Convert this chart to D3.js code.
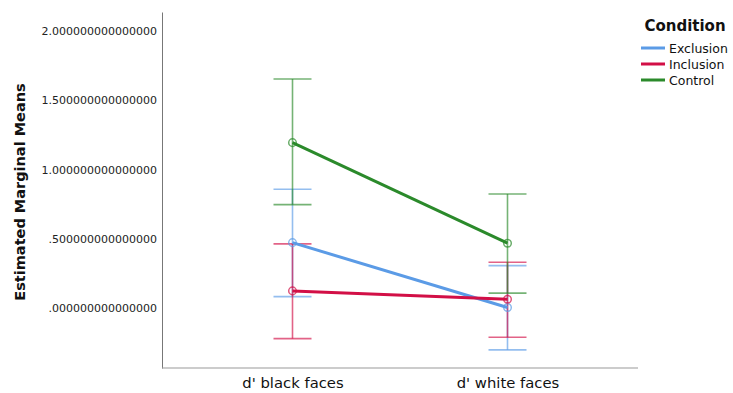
<!DOCTYPE html>
<html>
<head>
<meta charset="utf-8">
<script src="https://cdn.jsdelivr.net/npm/d3@7"></script>
<style>
  html, body { margin: 0; padding: 0; background: #fff; }
  svg { display: block; font-family: "DejaVu Sans", sans-serif; }
</style>
</head>
<body>
<svg id="chart" width="733" height="393"></svg>
<script>
// Estimated marginal means of d' by face type, one line per condition
const categories = ["d' black faces", "d' white faces"];
const conditions = ["Exclusion", "Inclusion", "Control"];
const colors = ["#5b9be6", "#d20f46", "#2b8a2b"];

// mean, lower and upper 95% CI per condition, in category order
const exclusionMean = [0.474, 0.006];
const exclusionLow  = [0.085, -0.299];
const exclusionHigh = [0.859, 0.308];

const inclusionMean = [0.126, 0.066];
const inclusionLow  = [-0.218, -0.208];
const inclusionHigh = [0.465, 0.333];

const controlMean = [1.195, 0.470];
const controlLow  = [0.748, 0.110];
const controlHigh = [1.654, 0.825];

const yTicks = [0, 0.5, 1.0, 1.5, 2.0];
const yTickLabels = [".000000000000000", ".500000000000000", "1.000000000000000", "1.500000000000000", "2.000000000000000"];

const series = [
  { name: conditions[0], color: colors[0], mean: exclusionMean, low: exclusionLow, high: exclusionHigh },
  { name: conditions[1], color: colors[1], mean: inclusionMean, low: inclusionLow, high: inclusionHigh },
  { name: conditions[2], color: colors[2], mean: controlMean, low: controlLow, high: controlHigh }
];

const svg = d3.select("#chart");
const plotLeft = 162, plotRight = 638, plotTop = 12, plotBottom = 368;

const x = d3.scalePoint().domain(categories).range([plotLeft, plotRight]).padding(0.607);
const y = d3.scaleLinear().domain([-0.43, 2.137]).range([plotBottom, plotTop]);

// axes (no tick marks)
const yAxis = d3.axisLeft(y).tickValues(yTicks).tickSize(0).tickPadding(5)
  .tickFormat((d, i) => yTickLabels[i]);
const gy = svg.append("g").attr("transform", `translate(${plotLeft},0)`).call(yAxis);
gy.select(".domain").attr("stroke", "#777").attr("stroke-width", 1);
gy.selectAll("text").attr("font-size", 11).attr("fill", "#222").attr("font-family", "DejaVu Sans, sans-serif");

const xAxis = d3.axisBottom(x).tickSize(0).tickPadding(9);
const gx = svg.append("g").attr("transform", `translate(0,${plotBottom})`).call(xAxis);
gx.select(".domain").attr("d", `M${plotLeft},0H${plotRight}`).attr("stroke", "#999").attr("stroke-width", 1.2);
gx.selectAll("text").attr("font-size", 14.8).attr("fill", "#111").attr("font-family", "DejaVu Sans, sans-serif");

svg.append("text")
  .attr("transform", `translate(25,192) rotate(-90)`)
  .attr("text-anchor", "middle")
  .attr("font-size", 14.5).attr("font-weight", "bold").attr("fill", "#111")
  .text("Estimated Marginal Means");

// error bars
const cap = 19;
series.forEach(s => {
  const g = svg.append("g").attr("stroke", s.color).attr("stroke-opacity", 0.65).attr("stroke-width", 1.6).attr("fill", "none");
  categories.forEach((c, i) => {
    const cx = x(c);
    g.append("line").attr("x1", cx).attr("x2", cx).attr("y1", y(s.low[i])).attr("y2", y(s.high[i]));
    g.append("line").attr("x1", cx - cap).attr("x2", cx + cap).attr("y1", y(s.low[i])).attr("y2", y(s.low[i]));
    g.append("line").attr("x1", cx - cap).attr("x2", cx + cap).attr("y1", y(s.high[i])).attr("y2", y(s.high[i]));
  });
});

// mean lines and markers
const line = d3.line().x((d, i) => x(categories[i])).y(d => y(d));
series.forEach(s => {
  svg.append("path").datum(s.mean).attr("d", line)
    .attr("fill", "none").attr("stroke", s.color).attr("stroke-width", 3);
  svg.append("g").selectAll("circle").data(s.mean).join("circle")
    .attr("cx", (d, i) => x(categories[i])).attr("cy", d => y(d)).attr("r", 3.8)
    .attr("fill", "none").attr("stroke", s.color).attr("stroke-opacity", 0.7).attr("stroke-width", 1.5);
});

// legend
const lg = svg.append("g");
lg.append("text").attr("x", 685).attr("y", 31).attr("text-anchor", "middle")
  .attr("font-size", 15).attr("font-weight", "bold").attr("fill", "#111").text("Condition");
series.forEach((s, i) => {
  const ly = 48 + i * 16;
  lg.append("line").attr("x1", 641).attr("x2", 665).attr("y1", ly).attr("y2", ly)
    .attr("stroke", s.color).attr("stroke-width", 3);
  lg.append("text").attr("x", 669).attr("y", ly + 4.5).attr("font-size", 12.5).attr("fill", "#111").text(s.name);
});
</script>
</body>
</html>
